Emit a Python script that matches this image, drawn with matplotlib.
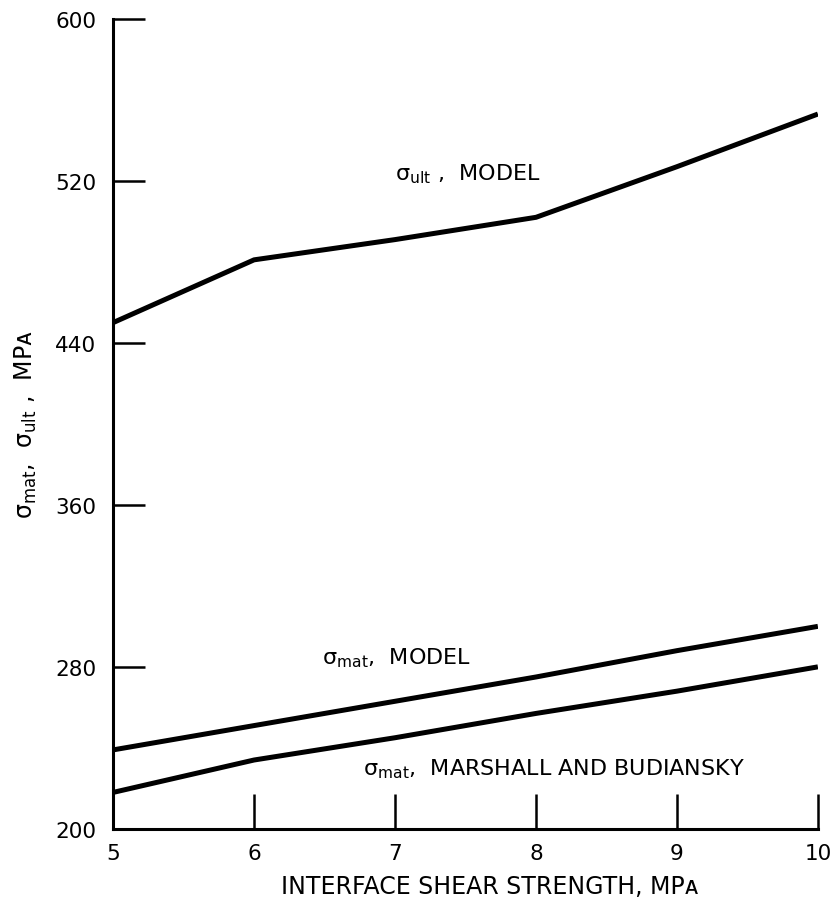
import numpy as np
import matplotlib
matplotlib.use('Agg')
import matplotlib.pyplot as plt

plt.rcParams['font.family'] = ['DejaVu Sans']
plt.rcParams['mathtext.fontset'] = 'dejavusans'

# interface shear strength, MPa
shear = [5, 6, 7, 8, 9, 10]
# sigma_ult, model
ult_model = [450, 481, 491, 502, 527, 553]
# sigma_mat, model
mat_model = [239, 251, 263, 275, 288, 300]
# sigma_mat, Marshall and Budiansky
mat_mb = [218, 234, 245, 257, 268, 280]

fig = plt.figure(figsize=(8.38, 9.03), dpi=100)
ax = fig.add_axes([0.135, 0.081, 0.841, 0.897])

ax.plot(shear, ult_model, color='black', lw=3.6, solid_capstyle='butt')
ax.plot(shear, mat_model, color='black', lw=3.6, solid_capstyle='butt')
ax.plot(shear, mat_mb, color='black', lw=3.6, solid_capstyle='butt')

ax.set_xlim(5, 10)
ax.set_ylim(200, 600)
ax.set_xticks([5, 6, 7, 8, 9, 10])
ax.set_yticks([200, 280, 360, 440, 520, 600])

for s in ['top', 'right']:
    ax.spines[s].set_visible(False)
for s in ['left', 'bottom']:
    ax.spines[s].set_linewidth(2.2)

ax.tick_params(axis='y', direction='in', length=23, width=1.8, pad=12, labelsize=15.5)
ax.tick_params(axis='x', direction='in', length=25, width=1.8, pad=10, labelsize=15.5)

ax.set_xlabel('INTERFACE SHEAR STRENGTH, MPᴀ', fontsize=17)
ax.xaxis.set_label_coords(0.535, -0.056)
ax.set_ylabel(r'$\mathregular{σ_{mat}}$,  $\mathregular{σ_{ult}}$ ,  MPᴀ', fontsize=17)
ax.yaxis.set_label_coords(-0.105, 0.5)

lab = dict(fontsize=16, va='center')
ax.text(7.0, 524, r'$\mathregular{σ_{ult}}$ ,  MODEL', **lab)
ax.text(6.48, 285, r'$\mathregular{σ_{mat}}$,  MODEL', **lab)
ax.text(6.77, 230, r'$\mathregular{σ_{mat}}$,  MARSHALL AND BUDIANSKY', **lab)

plt.savefig('out.png', dpi=100)
